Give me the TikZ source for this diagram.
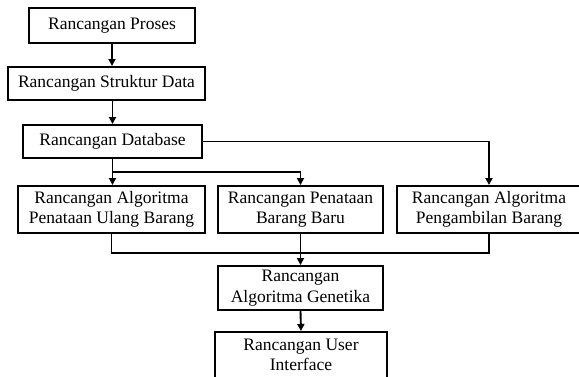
\documentclass[tikz,border=0pt]{standalone}
\usepackage{fontspec}
\setmainfont{Liberation Serif}
\usetikzlibrary{arrows.meta}
\begin{document}
\begin{tikzpicture}[x=1pt, y=-1pt, every node/.style={draw, line width=2pt, align=center, inner sep=0pt, font=\fontsize{17.5}{20.5}\selectfont}, arr/.style={-{Triangle[length=7pt, width=7pt]}, line width=1.9pt}]
		% \draw[help lines] (0,0) grid (579,376);
		\clip (0,0) rectangle (579,376);

		\node[minimum width=166, minimum height=35] (proses) at (112,25.5) {Rancangan Proses};
		\node[minimum width=197, minimum height=33] (struktur) at (106.5,83.5) {Rancangan Struktur Data};
		\node[minimum width=179, minimum height=33] (database) at (112.5,141.5) {Rancangan Database};

		\node[minimum width=187, minimum height=47] (ulang) at (111.5,209.5) {Rancangan Algoritma\\Penataan Ulang Barang};
		\node[minimum width=165, minimum height=47] (baru) at (300.5,209.5) {Rancangan Penataan\\Barang Baru};
		\node[minimum width=184, minimum height=47] (ambil) at (489,209.5) {Rancangan Algoritma\\Pengambilan Barang};

		\node[minimum width=165, minimum height=44] (genetika) at (300.5,288) {Rancangan\\Algoritma Genetika};
		\node[minimum width=172, minimum height=46] (ui) at (301,355) {Rancangan User\\Interface};

		\coordinate (split) at (112.5,172);

		\draw[arr] (proses.south) -- (proses.south |- struktur.north);
		\draw[arr] (struktur.south -| database.north) -- (database.north);
		\draw[arr] (database.south) -- (database.south |- ulang.north);
		\draw[arr] (split) -| (baru.north);
		\draw[arr] (database.east) -| (ambil.north);
		\draw[line width=1.9pt] (ulang.south) -- ++(0,19) -| (ambil.south);
		\draw[arr] (baru.south) -- (genetika.north);
		\draw[arr] (genetika.south) -- (ui.north);
	\end{tikzpicture}
\end{document}
